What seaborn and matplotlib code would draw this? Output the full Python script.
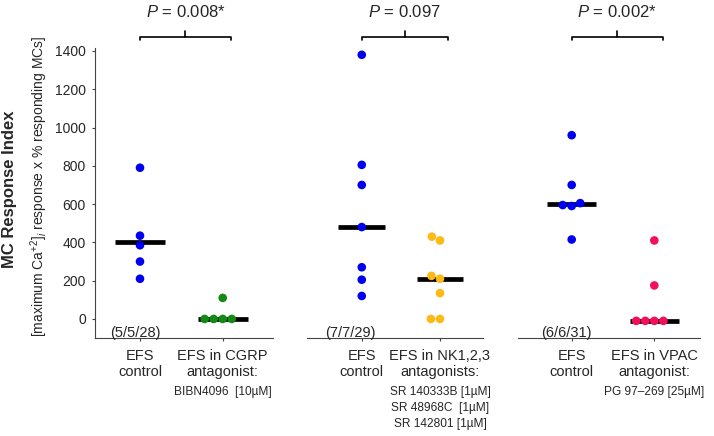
import matplotlib
matplotlib.use("Agg")
import matplotlib.pyplot as plt
import matplotlib.transforms as mtransforms
import seaborn as sns
import pandas as pd

# values
cgrp_control = [790, 435, 385, 300, 210]
cgrp_antag = [110, 0, 0, 0, 0]
nk_control = [1380, 805, 700, 480, 270, 205, 120]
nk_antag = [430, 410, 225, 210, 135, 0, 0]
vpac_control = [960, 700, 605, 595, 590, 415]
vpac_antag = [410, 175, -10, -10, -10, -10]

medians = [[400, 0], [480, 210], [600, -10]]
p_values = ["0.008*", "0.097", "0.002*"]
counts = ["(5/5/28)", "(7/7/29)", "(6/6/31)"]
group_labels = [
    ["EFS\ncontrol", "EFS in CGRP\nantagonist:"],
    ["EFS\ncontrol", "EFS in NK1,2,3\nantagonists:"],
    ["EFS\ncontrol", "EFS in VPAC\nantagonist:"],
]
drug_labels = [
    "BIBN4096  [10µM]",
    "SR 140333B [1µM]\nSR 48968C  [1µM]\nSR 142801 [1µM]",
    "PG 97\u2013269 [25µM]",
]
colors = [["#0000f0", "#138a13"], ["#0000f0", "#fdb914"], ["#0000f0", "#f2105c"]]
yticks = [0, 200, 400, 600, 800, 1000, 1200, 1400]

panels = [(cgrp_control, cgrp_antag), (nk_control, nk_antag), (vpac_control, vpac_antag)]

sns.set_style("white")
plt.rcParams["font.family"] = ["Liberation Sans", "DejaVu Sans"]
plt.rcParams["mathtext.fontset"] = "custom"
plt.rcParams["mathtext.rm"] = "Liberation Sans"
plt.rcParams["mathtext.it"] = "Liberation Sans:italic"

W, H = 714, 436
fig = plt.figure(figsize=(W / 100, H / 100), dpi=100)

# axes boxes in pixels: left, right, xlim
boxes = [(95, 273, (-0.544, 1.608)), (307, 483, (-0.70, 1.55)), (518, 700, (-0.65, 1.553))]
ax_bottom = (H - 337.7) / H
ax_height = 289.4 / H

for i, ((ctrl, antag), (left, right, xlim)) in enumerate(zip(panels, boxes)):
    ax = fig.add_axes([left / W, ax_bottom, (right - left) / W, ax_height])
    labels = group_labels[i]
    df = pd.DataFrame({
        "group": [labels[0]] * len(ctrl) + [labels[1]] * len(antag),
        "value": ctrl + antag,
    })
    ax.hlines(medians[i], [-0.3, 0.7], [0.3, 1.3], colors="black", lw=3.4, zorder=1)
    sns.swarmplot(data=df, x="group", y="value", hue="group", order=labels,
                  palette=dict(zip(labels, colors[i])), size=6.2, linewidth=0,
                  legend=False, ax=ax, zorder=3)
    ax.set_xlim(*xlim)
    ax.set_ylim(-98, 1414)
    ax.set_xlabel("")
    ax.set_ylabel("")
    ax.set_xticks([0, 1])
    ax.set_xticklabels(labels, fontsize=10.5, linespacing=1.2)
    ax.tick_params(axis="x", length=2.5, width=0.8, pad=5.5, color="#444444", bottom=True)
    for s in ["top", "right"]:
        ax.spines[s].set_visible(False)
    ax.spines["bottom"].set_color("#444444")
    ax.spines["bottom"].set_linewidth(0.8)
    if i == 0:
        ax.set_yticks(yticks)
        ax.tick_params(axis="y", length=2, width=0.8, pad=4.5, labelsize=10,
                       color="#444444", left=True)
        ax.spines["left"].set_color("#444444")
        ax.spines["left"].set_linewidth(0.8)
    else:
        ax.spines["left"].set_visible(False)
        ax.tick_params(axis="y", left=False, labelleft=False)

    trans = mtransforms.blended_transform_factory(ax.transData, ax.transAxes)
    ax.annotate(drug_labels[i], xy=(1, 0), xycoords=trans, xytext=(0, -35),
                textcoords="offset points", ha="center", va="top", fontsize=8.6,
                linespacing=1.4)
    ax.text(-0.06 if i != 1 else -0.15, -72, counts[i], ha="center", va="center",
            fontsize=10.5)

    # significance bracket
    ax.plot([0, 0, 1.1, 1.1], [1.028, 1.038, 1.038, 1.028], color="black", lw=1.2,
            transform=trans, clip_on=False)
    ax.plot([0.55, 0.55], [1.038, 1.061], color="black", lw=1.2,
            transform=trans, clip_on=False)
    ax.text(0.55, 1.1265, "$P$ = " + p_values[i], transform=trans, ha="center",
            va="center", fontsize=12)

fig.text(10 / W, 1 - 189 / H, "MC Response Index", rotation=90, fontweight="bold",
         fontsize=12, ha="center", va="center")
fig.text(39 / W, 1 - 186.5 / H, r"[maximum Ca$^{+2}$]$_{i}$ response x % responding MCs]",
         rotation=90, fontsize=10, ha="center", va="center")

fig.savefig("out.png", dpi=100)
